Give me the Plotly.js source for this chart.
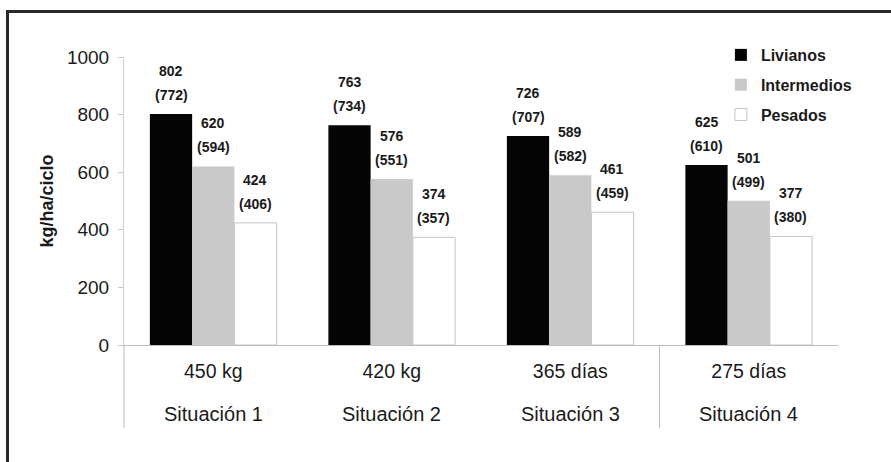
<!DOCTYPE html>
<html>
<head>
<meta charset="utf-8">
<script src="https://cdn.plot.ly/plotly-3.0.1.min.js"></script>
<style>
  html, body { margin: 0; padding: 0; background: #fff; overflow: hidden; }
  #wrap { position: relative; width: 891px; height: 462px; overflow: hidden; }
  #frame { position: absolute; left: 6px; top: 10px; width: 950px; height: 520px;
           border: 3px solid #2a2a2a; box-sizing: border-box; pointer-events: none; }
  #chart { position: absolute; left: 0; top: 0; width: 891px; height: 462px; }
</style>
</head>
<body>
<div id="wrap">
  <div id="chart"></div>
  <div id="frame"></div>
</div>
<script>
// ---- data ----
const situaciones = ["Situación 1", "Situación 2", "Situación 3", "Situación 4"];
const subLabels   = ["450 kg", "420 kg", "365 días", "275 días"];
const seriesNames = ["Livianos", "Intermedios", "Pesados"];
const livianos     = [802, 763, 726, 625];
const intermedios  = [620, 576, 589, 501];
const pesados      = [424, 374, 461, 377];
const livianosPar    = [772, 734, 707, 610];
const intermediosPar = [594, 551, 582, 499];
const pesadosPar     = [406, 357, 459, 380];
const yTicks = [0, 200, 400, 600, 800, 1000];

// ---- styling ----
const values = [livianos, intermedios, pesados];
const parens = [livianosPar, intermediosPar, pesadosPar];
const fills  = ["#050505", "#c9c9c9", "#ffffff"];
const lines  = ["#050505", "#c9c9c9", "#c4c4c4"];
const FONT = "Liberation Sans, Arial, sans-serif";

const W = 891, H = 462;
const margin = { l: 124, r: 53, t: 57, b: 117, pad: 0 };
const bargap = 0.29;
const plotW = W - margin.l - margin.r;
const barPx = plotW / situaciones.length * (1 - bargap) / seriesNames.length;

const traces = seriesNames.map((name, i) => ({
  type: "bar",
  name: name,
  legendgroup: name,
  x: situaciones,
  y: values[i],
  marker: { color: fills[i], line: { color: lines[i], width: i === 2 ? 1 : 0 } },
  hoverinfo: "skip"
}));

const annotations = [];
seriesNames.forEach((name, i) => {
  situaciones.forEach((s, j) => {
    annotations.push({
      x: s, y: values[i][j], xref: "x", yref: "y",
      text: String(values[i][j]), showarrow: false,
      xanchor: "center", yanchor: "middle",
      xshift: (i - 1) * barPx, yshift: 43,
      font: { family: FONT, size: 14, color: "#1a1a1a", weight: "bold" }
    });
    annotations.push({
      x: s, y: values[i][j], xref: "x", yref: "y",
      text: "(" + parens[i][j] + ")", showarrow: false,
      xanchor: "center", yanchor: "middle",
      xshift: (i - 1) * barPx, yshift: 19,
      font: { family: FONT, size: 14, color: "#1a1a1a", weight: "bold" }
    });
  });
});
// second row of category labels
situaciones.forEach((s) => {
  annotations.push({
    x: s, xref: "x", y: 0, yref: "paper",
    text: s, showarrow: false,
    xanchor: "center", yanchor: "middle", yshift: -69,
    font: { family: FONT, size: 20, color: "#1a1a1a" }
  });
});

const shapes = [0, 0.75].map(px => ({
  type: "line", xref: "paper", yref: "paper",
  x0: px, x1: px, y0: 0, y1: -83 / (H - margin.t - margin.b),
  line: { color: "#bdbdbd", width: 1 }
}));

const layout = {
  width: W, height: H,
  margin: margin,
  paper_bgcolor: "#ffffff",
  plot_bgcolor: "#ffffff",
  font: { family: FONT, color: "#1a1a1a" },
  barmode: "group",
  bargap: bargap,
  bargroupgap: 0,
  showlegend: true,
  legend: {
    x: 0.836, y: 1.066, xanchor: "left", yanchor: "top",
    font: { family: FONT, size: 16, color: "#1a1a1a", weight: "bold" },
    tracegroupgap: 6,
    bgcolor: "rgba(0,0,0,0)"
  },
  xaxis: {
    type: "category",
    tickmode: "array",
    tickvals: situaciones,
    ticktext: subLabels,
    tickfont: { family: FONT, size: 19.5, color: "#1a1a1a" },
    ticks: "",
    ticklabelstandoff: 9,
    showline: true, linecolor: "#bdbdbd", linewidth: 1,
    showgrid: false, zeroline: false,
    fixedrange: true
  },
  yaxis: {
    range: [0, 1000],
    tickmode: "array",
    tickvals: yTicks,
    ticktext: yTicks.map(String),
    tickfont: { family: FONT, size: 19, color: "#1a1a1a" },
    ticks: "outside", ticklen: 5, tickcolor: "#c8c8c8",
    ticklabelstandoff: 5,
    showline: true, linecolor: "#d0d0d0", linewidth: 1,
    showgrid: false, zeroline: false,
    title: { text: "kg/ha/ciclo", standoff: 8,
             font: { family: FONT, size: 18, color: "#1a1a1a", weight: "bold" } },
    fixedrange: true
  },
  annotations: annotations,
  shapes: shapes
};

Plotly.newPlot("chart", traces, layout, { displayModeBar: false, staticPlot: true });
</script>
</body>
</html>
